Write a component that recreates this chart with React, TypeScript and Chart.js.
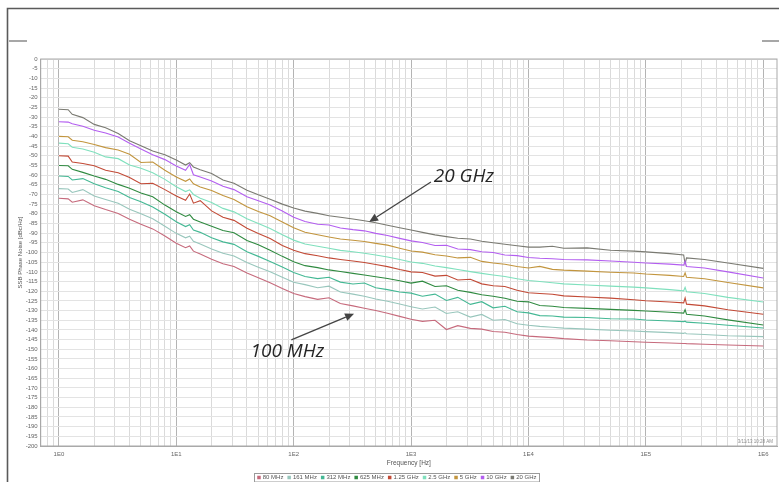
import React, { useEffect, useRef } from 'react';
import { Chart, registerables } from 'chart.js';

Chart.register(...registerables);

// Frequency points [Hz]
const FREQS = [1, 1.2, 1.3, 1.6, 2, 2.5, 3.2, 4, 5, 6.3, 8, 10, 12, 13, 14, 16, 20, 25, 31, 40, 50, 63, 80, 100, 125, 160, 200, 250, 320, 400, 500, 630, 800, 1000, 1250, 1600, 2000, 2500, 3200, 4000, 5000, 6300, 8000, 10000, 12500, 16000, 20000, 31600, 50000, 79000, 100000, 160000, 210000, 216000, 222000, 316000, 500000, 1000000];

const SERIES_NAMES = ['80 MHz', '161 MHz', '312 MHz', '625 MHz', '1.25 GHz', '2.5 GHz', '5 GHz', '10 GHz', '20 GHz'];
const SERIES_COLORS = ['#c66a7c', '#98c6bc', '#44b894', '#2f8a40', '#c24a36', '#7fe0bd', '#c2953e', '#b35ef0', '#7a7a72'];

const MHZ_80 = [-72, -72.3, -74, -72.8, -75.8, -77.8, -79.8, -82.8, -85.4, -87.8,
  -91.5, -95.2, -97.5, -96.6, -99.3, -100.8, -103.5, -105.8, -107.2, -110.6,
  -113, -115.6, -118.6, -121.2, -122.8, -124.2, -123.4, -126.4, -127.6, -128.8,
  -130, -131.4, -133, -134.5, -135.6, -135, -139.8, -137.8, -139.2, -139.6,
  -140.8, -141.2, -142.4, -143.2, -143.6, -144, -144.5, -145.2, -145.6, -146.1,
  -146.4, -146.8, -147, -147, -147.1, -147.4, -147.8, -148.3];
const MHZ_161 = [-67, -67.2, -69, -67.5, -70.8, -72.6, -74.5, -77.6, -80, -82.6,
  -86.4, -90.1, -92.4, -91.6, -94.2, -95.6, -98.2, -100.4, -101.8, -105.2,
  -107.6, -110, -112.8, -115.4, -116.6, -118.2, -117.4, -120.4, -121.5, -122.6,
  -124, -125.2, -126.6, -128, -129.2, -128.2, -131.5, -130.6, -133.4, -132,
  -135, -134.6, -136.8, -137.6, -138.2, -138.6, -139.1, -139.6, -140.2, -140.6,
  -140.9, -141.4, -141.8, -141.5, -142, -142.4, -143, -143.5];
const MHZ_312 = [-60.5, -60.7, -62.5, -61.8, -64.5, -66.5, -68.5, -71.6, -73.8, -76.5,
  -80.2, -84.1, -86.6, -85.6, -88.4, -89.6, -92.4, -94.5, -95.8, -99.6,
  -102, -104.6, -107.5, -110.3, -112.4, -113.5, -112.8, -115.3, -116.3, -115.8,
  -118.2, -119.2, -120.4, -121, -122.6, -121.5, -124.8, -123.2, -126.8, -125.4,
  -128.6, -127.8, -130.6, -131.2, -132.6, -132.8, -133.4, -133.6, -134.2, -134.4,
  -134.9, -135.4, -135.7, -135.5, -136, -136.6, -137.6, -139];
const MHZ_625 = [-55, -55.2, -57, -58.6, -60.5, -62.2, -64.8, -66.8, -69.2, -71.2,
  -75.5, -78.9, -81.4, -80.5, -82.8, -84.2, -86.4, -88.6, -89.8, -93.8,
  -96, -98.8, -102, -104.8, -106.8, -107.8, -109, -109.8, -110.8, -111.6,
  -112.5, -113.4, -114.6, -115.8, -114.8, -117.6, -117.2, -119.5, -120.6, -121.8,
  -122.6, -123.6, -125.2, -125.5, -127.4, -127.8, -128.4, -128.9, -129.4, -129.9,
  -130.2, -130.9, -131.3, -129.5, -131.9, -132.8, -134.8, -137.5];
const GHZ_1_25 = [-50, -50.2, -53.2, -54, -55.2, -57.5, -58.8, -61.2, -64.5, -64.2,
  -67.5, -70.8, -73, -69.8, -74.5, -73.2, -78.5, -81.8, -83.4, -87.5,
  -90.2, -92.8, -96.4, -98.8, -100.6, -101.7, -102.8, -103.6, -104.4, -105.2,
  -106.2, -107.3, -108.8, -110, -110.3, -112.2, -111.8, -114.2, -113.8, -116.2,
  -117.2, -117.6, -119.5, -120.8, -121.2, -121.6, -122.4, -123, -123.6, -124.4,
  -124.9, -125.6, -126, -123.5, -126.7, -127.6, -129.6, -131.9];
const GHZ_2_5 = [-43.5, -43.8, -45.6, -46.5, -48.2, -50.6, -51.5, -54.8, -56.5, -58.8,
  -62.2, -66, -68.5, -67.6, -70, -72, -74.2, -77.2, -79, -82.5,
  -85, -87.6, -90.8, -93.6, -95.6, -96.8, -97.8, -98.9, -99.6, -100.4,
  -101.3, -102.3, -103.6, -104.9, -105.6, -107, -107.8, -108.8, -109.9, -110.8,
  -111.6, -112.4, -113.6, -114.5, -115, -115.6, -116.2, -116.8, -117.4, -117.9,
  -118.3, -119.2, -119.8, -118, -120.3, -121.2, -123.2, -125.6];
const GHZ_5 = [-40, -40.2, -42, -42.8, -44.2, -45.8, -47, -49.2, -53.5, -53.2,
  -57.5, -61, -63.2, -62, -64.5, -66.2, -68, -70.6, -72.6, -76.4,
  -78.8, -81, -84.2, -87.2, -89.5, -90.8, -92, -93, -93.7, -94.3,
  -95.3, -96.2, -97.8, -99.2, -99.8, -101.2, -101.8, -102.8, -102.5, -104.6,
  -105.4, -106.1, -107.2, -108, -107.2, -108.7, -109.1, -109.6, -110.2, -110.6,
  -111.1, -111.8, -112.4, -110.5, -112.8, -113.6, -115.5, -118.3];
const GHZ_10 = [-32.4, -32.6, -33.5, -34.8, -36.8, -38.2, -40.3, -43.5, -46.5, -49.5,
  -52, -55.3, -57.5, -54.5, -59.8, -61, -63, -65.8, -67.5, -71.2,
  -73.3, -75.5, -78.5, -81.8, -84, -85.4, -85.8, -87.3, -88.2, -88.8,
  -90.1, -91.2, -92.7, -94, -94.8, -96.4, -96.3, -98.2, -98.5, -99.6,
  -100, -101.3, -101.6, -102.6, -103, -103.2, -103.6, -103.8, -104.4, -105,
  -105.4, -106, -106.5, -104.5, -107.2, -108, -110, -113.2];
const GHZ_20 = [-26, -26.2, -28.6, -30.3, -33.8, -35.5, -38.5, -42.2, -44.8, -47.5,
  -49.5, -52.2, -54.8, -53.6, -55.8, -57.2, -59.2, -62.5, -64.2, -67.8,
  -70.2, -72.5, -75, -77, -78.6, -79.8, -81, -81.8, -82.7, -83.6,
  -84.6, -85.9, -87.2, -88.4, -89.6, -90.9, -91.8, -92.6, -93, -94.2,
  -95, -95.7, -96.5, -97.2, -97.2, -96.8, -97.8, -97.6, -98.8, -99.3,
  -99.7, -100.6, -101.3, -106, -102.8, -103.6, -105.4, -108.2];

const SERIES_VALUES = [MHZ_80, MHZ_161, MHZ_312, MHZ_625, GHZ_1_25, GHZ_2_5, GHZ_5, GHZ_10, GHZ_20];

// Axis definitions
const X_MIN = 0.727;
const X_MAX = 1.31e6;
const X_DECADES = [1, 10, 100, 1000, 10000, 100000, 1000000];
const X_TICK_LABELS = ['1E0', '1E1', '1E2', '1E3', '1E4', '1E5', '1E6'];
const X_MINOR_MULT = [2, 3, 4, 5, 6, 7, 8, 9];
const X_LEADING_MINOR = [0.8, 0.9];
const Y_MIN = -200;
const Y_MAX = 0;
const Y_STEP = 5;

// Annotations (anchored in data units)
const ANNOTATIONS = [
  { text: '20 GHz', textF: 2813, textDb: -61, tailF: 1476, tailDb: -63.6, tipF: 439, tipDb: -84.2 },
  { text: '100 MHz', textF: 88.3, textDb: -151.4, tailF: 95.5, tailDb: -145.2, tipF: 327, tipDb: -131.6 },
];
const TIMESTAMP = '3/11/13 10:28 AM';

const FONT = "'Liberation Sans', Arial, sans-serif";

const isDecade = (v: number) => Math.abs(Math.log10(v) - Math.round(Math.log10(v))) < 1e-9;

const decorPlugin = {
  id: 'decor',
  beforeDatasetsDraw(chart: any) {
    const { ctx, chartArea } = chart;
    ctx.save();
    ctx.strokeStyle = '#a9a9a9';
    ctx.lineWidth = 1;
    ctx.strokeRect(chartArea.left, chartArea.top, chartArea.right - chartArea.left, chartArea.bottom - chartArea.top);
    ctx.restore();
  },
  afterDraw(chart: any) {
    const { ctx, chartArea } = chart;
    const xs = chart.scales.x;
    const ys = chart.scales.y;
    ctx.save();
    // outer frame fragments
    ctx.strokeStyle = '#5a5a5a';
    ctx.lineWidth = 1.6;
    ctx.beginPath();
    ctx.moveTo(7.5, 482);
    ctx.lineTo(7.5, 8.5);
    ctx.lineTo(779, 8.5);
    ctx.stroke();
    ctx.strokeStyle = '#8a8a8a';
    ctx.lineWidth = 1.5;
    ctx.beginPath();
    ctx.moveTo(9, 41);
    ctx.lineTo(27, 41);
    ctx.moveTo(762, 41);
    ctx.lineTo(779, 41);
    ctx.stroke();

    // timestamp
    ctx.fillStyle = '#8c8c8c';
    ctx.font = `4.5px ${FONT}`;
    ctx.textAlign = 'right';
    ctx.textBaseline = 'middle';
    ctx.fillText(TIMESTAMP, chartArea.right - 4, chartArea.bottom - 4);

    // annotations
    for (const a of ANNOTATIONS) {
      const tx = xs.getPixelForValue(a.textF);
      const ty = ys.getPixelForValue(a.textDb);
      const x0 = xs.getPixelForValue(a.tailF);
      const y0 = ys.getPixelForValue(a.tailDb);
      const x1 = xs.getPixelForValue(a.tipF);
      const y1 = ys.getPixelForValue(a.tipDb);
      ctx.strokeStyle = '#444';
      ctx.fillStyle = '#444';
      ctx.lineWidth = 1.3;
      const ang = Math.atan2(y1 - y0, x1 - x0);
      const hl = 9;
      const hw = 4;
      const bx = x1 - hl * Math.cos(ang);
      const by = y1 - hl * Math.sin(ang);
      ctx.beginPath();
      ctx.moveTo(x0, y0);
      ctx.lineTo(bx, by);
      ctx.stroke();
      ctx.beginPath();
      ctx.moveTo(x1, y1);
      ctx.lineTo(bx + hw * Math.sin(ang), by - hw * Math.cos(ang));
      ctx.lineTo(bx - hw * Math.sin(ang), by + hw * Math.cos(ang));
      ctx.closePath();
      ctx.fill();
      ctx.fillStyle = '#262626';
      ctx.font = `italic 19px 'Open Sans', 'Noto Sans', sans-serif`;
      ctx.textAlign = 'center';
      ctx.textBaseline = 'middle';
      ctx.fillText(a.text, tx, ty);
    }

    // legend with border
    ctx.font = `6px ${FONT}`;
    ctx.textBaseline = 'middle';
    ctx.textAlign = 'left';
    const box = 3.5;
    const gap = 2;
    const widths = SERIES_NAMES.map((n) => box + gap + ctx.measureText(n).width);
    const totalTarget = 277;
    const sum = widths.reduce((p, c) => p + c, 0);
    const spacing = Math.max(4, (totalTarget - sum) / (SERIES_NAMES.length - 1));
    const total = sum + spacing * (SERIES_NAMES.length - 1);
    const cx = (chartArea.left + chartArea.right) / 2 - 12;
    let x = cx - total / 2;
    const ly = 477.5;
    ctx.strokeStyle = '#9a9a9a';
    ctx.lineWidth = 1;
    ctx.strokeRect(Math.round(x - 3) + 0.5, 473.5, Math.round(total + 6), 8.5);
    SERIES_NAMES.forEach((n, i) => {
      ctx.fillStyle = SERIES_COLORS[i];
      ctx.fillRect(x, ly - box / 2, box, box);
      ctx.fillStyle = '#555';
      ctx.fillText(n, x + box + gap, ly + 0.3);
      x += widths[i] + spacing;
    });
    ctx.restore();
  },
};

export default function App() {
  const ref = useRef<HTMLCanvasElement | null>(null);

  useEffect(() => {
    const canvas = ref.current;
    if (!canvas) return;
    const xGrid: number[] = [...X_LEADING_MINOR];
    X_DECADES.forEach((d, i) => {
      xGrid.push(d);
      if (i < X_DECADES.length - 1) X_MINOR_MULT.forEach((m) => xGrid.push(m * d));
    });

    const chart = new Chart(canvas, {
      type: 'line',
      data: {
        datasets: SERIES_NAMES.map((name, i) => ({
          label: name,
          data: FREQS.map((f, j) => ({ x: f, y: SERIES_VALUES[i][j] })),
          borderColor: SERIES_COLORS[i],
          backgroundColor: SERIES_COLORS[i],
          borderWidth: 1.1,
          pointRadius: 0,
          tension: 0,
        })),
      },
      options: {
        animation: false,
        responsive: false,
        layout: { padding: { left: 0, right: 2, top: 59, bottom: 0 } },
        plugins: { legend: { display: false }, tooltip: { enabled: false } },
        scales: {
          x: {
            type: 'logarithmic',
            min: X_MIN,
            max: X_MAX,
            afterBuildTicks: (scale: any) => {
              scale.ticks = xGrid.map((v) => ({ value: v }));
            },
            afterFit: (scale: any) => {
              scale.height = 36;
            },
            ticks: {
              autoSkip: false,
              maxRotation: 0,
              minRotation: 0,
              padding: 5,
              color: '#666',
              font: { family: FONT, size: 6 },
              callback: (v: any) => {
                const idx = X_DECADES.findIndex((d) => Math.abs(d - Number(v)) < 1e-6 * d);
                return idx >= 0 ? X_TICK_LABELS[idx] : '';
              },
            },
            grid: {
              drawTicks: false,
              lineWidth: 1,
              color: (c: any) => (c.tick && isDecade(c.tick.value) ? '#b4b4b4' : '#dadada'),
            },
            border: { display: true, color: '#a9a9a9' },
            title: {
              display: true,
              text: 'Frequency [Hz]',
              color: '#555',
              font: { family: FONT, size: 6.5 },
              padding: { top: 0, bottom: 15 },
            },
          },
          y: {
            type: 'linear',
            min: Y_MIN,
            max: Y_MAX,
            afterFit: (scale: any) => {
              scale.width = 40.7;
            },
            ticks: {
              stepSize: Y_STEP,
              autoSkip: false,
              padding: 3,
              color: '#666',
              font: { family: FONT, size: 6 },
            },
            grid: { drawTicks: false, color: '#e3e3e3', lineWidth: 1 },
            border: { display: true, color: '#a9a9a9' },
            title: {
              display: true,
              text: 'SSB Phase Noise [dBc/Hz]',
              color: '#555',
              font: { family: FONT, size: 6 },
              padding: { top: 16.4, bottom: 0 },
            },
          },
        },
      },
      plugins: [decorPlugin],
    } as any);

    return () => chart.destroy();
  }, []);

  return (
    <div style={{ position: 'absolute', left: 0, top: 0, width: 779, height: 482, background: '#fff' }}>
      <canvas ref={ref} width={779} height={482} style={{ display: 'block', width: 779, height: 482 }} />
    </div>
  );
}
